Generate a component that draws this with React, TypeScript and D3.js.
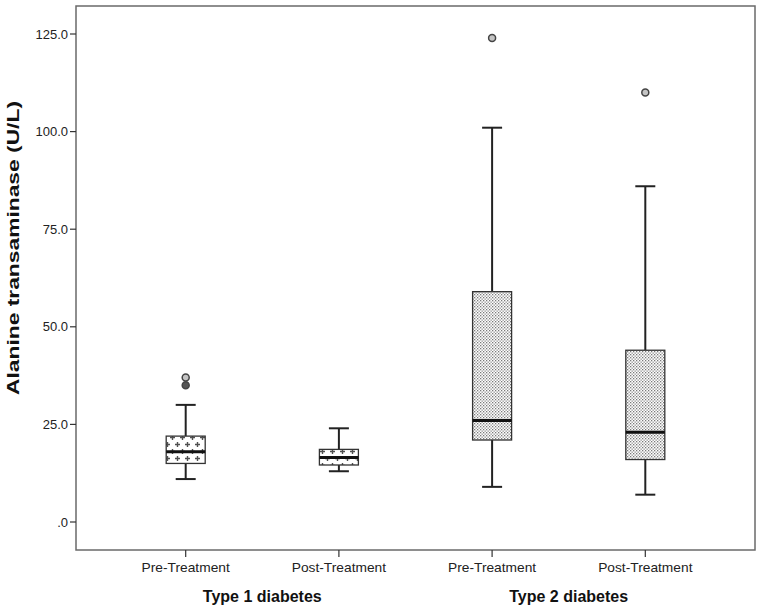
import * as React from "react";
import * as d3 from "d3";

const categories = ["T1-Pre", "T1-Post", "T2-Pre", "T2-Post"];
const tickLabels = ["Pre-Treatment", "Post-Treatment", "Pre-Treatment", "Post-Treatment"];
const groups = ["Type 1 diabetes", "Type 2 diabetes"];
const patterns = ["plus", "plus", "dots", "dots"];

// five-number summaries
const whiskerLow = [11, 13, 9, 7];
const q1 = [15, 14.6, 21, 16];
const median = [18, 16.5, 26, 23];
const q3 = [22, 18.6, 59, 44];
const whiskerHigh = [30, 24, 101, 86];
const outliers = [[37, 35], [], [124], [110]];

const yTicks = [0, 25, 50, 75, 100, 125];

export default function App() {
  const width = 761;
  const height = 610;
  const left = 76;
  const right = 755;
  const top = 6;
  const bottom = 550;

  const x = d3.scalePoint<string>().domain(categories).range([left, right]).padding(0.716);
  const y = d3.scaleLinear().domain([0, 125]).range([522, 34]);
  const boxW = 39;
  const capW = 20;
  const fmt = (v: number) => (v === 0 ? ".0" : d3.format(".1f")(v));

  return (
    <svg width={width} height={height} style={{ position: "absolute", left: 0, top: 0 }}
      fontFamily="'Liberation Sans', Arial, sans-serif">
      <defs>
        <pattern id="plus" width={10} height={14} patternUnits="userSpaceOnUse">
          <rect width={10} height={14} fill="#fff" />
          <path d="M2.5,1v5M0,3.5h5M7.5,8v5M5,10.5h5" stroke="#505050" strokeWidth={1.4} />
        </pattern>
        <pattern id="dots" width={3} height={3} patternUnits="userSpaceOnUse">
          <rect width={3} height={3} fill="#fff" />
          <rect x={0} y={0} width={1.3} height={1.3} fill="#7a7a7a" />
          <rect x={1.5} y={1.5} width={1.3} height={1.3} fill="#8c8c8c" />
        </pattern>
      </defs>
      <rect x={0} y={0} width={width} height={height} fill="#fff" />
      <rect x={left} y={top} width={right - left} height={bottom - top} fill="none" stroke="#6a6a6a" strokeWidth={1.5} />

      {yTicks.map((t) => (
        <g key={t} transform={`translate(0,${y(t)})`}>
          <line x1={left - 6} x2={left} stroke="#333" strokeWidth={1.2} />
          <text x={left - 8} dy="0.35em" textAnchor="end" fontSize={13} fill="#222">{fmt(t)}</text>
        </g>
      ))}
      <text transform={`translate(19,248) rotate(-90)`} textAnchor="middle"
        fontSize={16.5} fontWeight="bold" fill="#111" textLength={294} lengthAdjust="spacingAndGlyphs">Alanine transaminase (U/L)</text>

      {categories.map((c, i) => {
        const cx = x(c)!;
        return (
          <g key={c}>
            <line x1={cx} x2={cx} y1={bottom} y2={bottom + 7} stroke="#333" strokeWidth={1.2} />
            <text x={cx} y={bottom + 22} textAnchor="middle" fontSize={13} fill="#222"
              transform={`translate(${cx},0) scale(1.06,1) translate(${-cx},0)`}>{tickLabels[i]}</text>
            <line x1={cx} x2={cx} y1={y(whiskerHigh[i])} y2={y(q3[i])} stroke="#222" strokeWidth={2} />
            <line x1={cx} x2={cx} y1={y(q1[i])} y2={y(whiskerLow[i])} stroke="#222" strokeWidth={2} />
            <line x1={cx - capW / 2} x2={cx + capW / 2} y1={y(whiskerHigh[i])} y2={y(whiskerHigh[i])} stroke="#222" strokeWidth={2} />
            <line x1={cx - capW / 2} x2={cx + capW / 2} y1={y(whiskerLow[i])} y2={y(whiskerLow[i])} stroke="#222" strokeWidth={2} />
            <rect x={cx - boxW / 2} y={y(q3[i])} width={boxW} height={y(q1[i]) - y(q3[i])}
              fill={`url(#${patterns[i]})`} stroke="#333" strokeWidth={1.3} />
            <line x1={cx - boxW / 2} x2={cx + boxW / 2} y1={y(median[i])} y2={y(median[i])} stroke="#111" strokeWidth={3} />
            {outliers[i].map((o, j) => (
              <circle key={j} cx={cx} cy={y(o)} r={3.5} fill={j === 1 ? "#555" : "#c4c4c4"} stroke="#444" strokeWidth={1.5} />
            ))}
          </g>
        );
      })}

      {groups.map((g, k) => {
        const gx = (x(categories[k * 2])! + x(categories[k * 2 + 1])!) / 2;
        return (
          <text key={g} x={gx} y={bottom + 52} textAnchor="middle" fontSize={16} fontWeight="bold" fill="#111">{g}</text>
        );
      })}
    </svg>
  );
}
